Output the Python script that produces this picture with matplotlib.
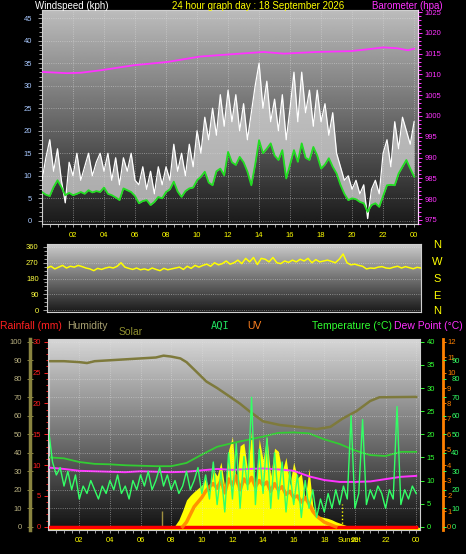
import numpy as np
import matplotlib.pyplot as plt
from matplotlib.ticker import MultipleLocator

plt.rcParams['font.family'] = ['Liberation Sans', 'DejaVu Sans']

# ---- data ----
hq = np.arange(97) * 0.25          # quarter-hour time grid, 0..24 h

gust = [9, 14, 18, 11, 16, 9, 4, 13,
        10, 15, 9, 12, 15, 10, 13, 15,
        11, 15, 9, 14, 8, 14, 11, 15,
        9, 8, 12, 7, 11, 6, 12, 8,
        12, 9, 17, 11, 15, 10, 17, 12,
        20, 15, 23, 18, 25, 19, 28, 21,
        29, 22, 28, 20, 26, 18, 24, 30,
        35, 25, 31, 22, 27, 20, 28, 18,
        25, 33, 22, 33, 24, 29, 21, 29,
        22, 26, 19, 24, 15, 12, 9, 10,
        7, 9, 6, 8, 0.5, 7, 9, 6,
        15, 18, 12, 22, 16, 23, 20, 17,
        22]

wind_avg = [6.4, 5.8, 5.5, 7.5, 9.0, 7.5, 5.7, 6.2,
            5.7, 6.0, 6.4, 6.0, 6.8, 6.3, 6.6, 6.4,
            7.4, 6.0, 5.7, 5.2, 4.6, 7.2, 6.8, 6.4,
            5.5, 3.9, 4.4, 4.6, 3.5, 4.2, 5.3, 5.0,
            6.4, 7.0, 8.7, 6.5, 5.3, 6.6, 7.2, 7.4,
            9.0, 9.8, 10.9, 8.5, 7.9, 11.0, 11.6, 10.1,
            15.3, 13.0, 12.4, 14.2, 13.0, 10.9, 7.9, 12.5,
            17.9, 15.0, 16.0, 17.2, 14.5, 13.5, 15.7, 9.4,
            12.5, 15.7, 13.1, 17.2, 14.0, 13.5, 16.4, 14.5,
            11.6, 12.5, 13.9, 12.0, 10.5, 8.0, 6.0, 4.6,
            5.0, 4.8, 4.2, 3.9, 2.0, 3.5, 3.9, 3.1,
            5.5, 7.9, 8.0, 7.9, 10.5, 12.0, 13.5, 11.6,
            9.8]

baro_h = [0, 1.6, 2.5, 3.8, 5.9, 8.1, 10.2, 12.4, 14.3, 15.6, 17.7, 19.9, 20.9, 22.0, 22.9, 23.6, 24]
baro = [1010.6, 1010.3, 1010.4, 1011.0, 1012.2, 1013.0, 1014.3, 1014.9, 1015.4, 1015.0,
        1015.4, 1015.6, 1016.0, 1016.5, 1016.3, 1015.8, 1016.2]

wdir = [240, 250, 235, 245, 255, 240, 250, 245,
        255, 248, 240, 235, 225, 238, 232, 240,
        245, 240, 250, 270, 245, 238, 232, 240,
        230, 235, 228, 240, 232, 225, 238, 230,
        235, 240, 245, 232, 250, 238, 255, 245,
        255, 262, 250, 270, 258, 265, 280, 262,
        270, 285, 265, 295, 275, 300, 260, 295,
        290, 275, 300, 270, 265, 280, 272, 285,
        275, 290, 280, 295, 270, 288, 275, 280,
        285, 278, 270, 290, 320, 270, 258, 262,
        255, 250, 235, 240, 238, 245, 248, 240,
        238, 245, 250, 240, 248, 242, 236, 244,
        240]

temp_h = list(range(25))
temp = [15.0, 14.8, 14.0, 13.6, 13.5, 13.3, 13.2, 13.1, 13.1, 13.8, 15.6, 17.3, 18.1,
        18.8, 19.5, 20.3, 20.4, 20.2, 18.9, 17.9, 16.5, 15.5, 15.3, 16.2, 16.2]
dew = [12.8, 12.5, 12.1, 12.0, 11.9, 11.8, 12.0, 11.9, 11.8, 11.9, 12.2, 12.5, 12.3,
       12.5, 12.6, 12.4, 12.1, 10.9, 10.1, 9.7, 9.7, 9.8, 10.3, 10.8, 11.0]

hum_h = [0, 1, 2, 2.5, 3, 4, 5, 6, 7, 7.5, 8, 8.6, 9.0, 9.5, 10.3, 11.0, 11.8, 12.5,
         13.1, 14.0, 15.1, 16.2, 17.5, 18.4, 19.2, 20.1, 21.0, 21.6, 24]
hum = [89.5, 89.5, 89.0, 88.5, 89.5, 90.0, 90.5, 91.0, 91.5, 92.5, 92.0, 91.0, 89.0, 85.0,
       78.5, 75.0, 70.5, 66.5, 62.5, 57.0, 55.0, 54.0, 52.8, 54.0, 58.5, 62.5, 68.0, 70.0, 70.2]

solar_h = np.arange(49) * 0.25 + 8.0
solar = [0, 0.3, 1.5, 3.5, 5.8, 6.8, 7.6, 8.3,
         9.0, 10.5, 7.5, 12.3, 11.0, 14.0, 8.5, 16.6,
         19.5, 9.0, 17.5, 18.1, 12.0, 20.9, 8.0, 19.0,
         14.5, 19.5, 11.0, 17.0, 16.3, 12.0, 15.0, 9.0,
         14.0, 10.5, 11.5, 6.0, 12.6, 4.5, 2.5, 2.2,
         2.0, 1.8, 1.5, 1.1, 0.8, 0.5, 0.2, 0.0,
         0.0]

uv_h = np.arange(41) * 0.25 + 8.75
uv = [0, 0.3, 0.8, 1.3, 1.6, 1.9, 2.3, 2.6, 2.8, 2.5, 3.0, 2.2, 3.1, 2.7, 3.3, 2.4,
      3.1, 2.8, 3.2, 2.6, 3.0, 2.7, 2.9, 2.3, 2.8, 2.4, 2.6, 2.1, 2.3, 1.9, 2.0, 1.6,
      1.9, 1.5, 1.0, 0.7, 0.5, 0.3, 0.2, 0.1, 0]

aqi = [52, 35, 28, 32, 22, 30, 20, 28,
       15, 22, 18, 25, 20, 15, 22, 18,
       25, 20, 28, 18, 22, 15, 25, 20,
       28, 22, 30, 20, 25, 32, 22, 28,
       20, 25, 18, 22, 30, 20, 25, 32,
       18, 28, 15, 35, 12, 30, 8, 40,
       15, 45, 10, 38, 20, 70, 12, 42,
       18, 48, 10, 40, 15, 35, 8, 30,
       12, 28, 5, 25, 10, 20, 5, 15,
       8, 18, 10, 20, 12, 22, 15, 60,
       10, 18, 58, 12, 20, 15, 22, 18,
       10, 20, 15, 65, 12, 20, 15, 22,
       18]

rain_h = [0, 24]
rain = [0.0, 0.0]

marker_h = [7.4, 19.15]
marker_top = [3.4, 5.0]

hour_ticks = list(range(2, 25, 2))
hour_labels = ['%02d' % (h % 24) for h in hour_ticks]

# ---- figure ----
W, H = 466, 554
fig = plt.figure(figsize=(W / 100, H / 100), dpi=100, facecolor='black')


def rect(x0, y0, x1, y1):
    return [x0 / W, 1 - y1 / H, (x1 - x0) / W, (y1 - y0) / H]


def bg(ax, top, bot):
    g = np.linspace(bot, top, 256).reshape(-1, 1)
    ax.imshow(g, extent=(0, 1, 0, 1), transform=ax.transAxes, aspect='auto',
              cmap='gray', vmin=0, vmax=1, origin='lower', zorder=0)


def spines(ax, color='#d0d0d0', show=('left', 'right', 'top', 'bottom')):
    for k, s in ax.spines.items():
        s.set_visible(k in show)
        s.set_color(color)


FS = 5.5
GRID = dict(color='#e0e0e0', linestyle=':', linewidth=0.6, alpha=0.6)

# top panel: wind speed + barometer
ax1 = fig.add_axes(rect(42, 10, 418, 224))
bg(ax1, 0.74, 0.1)
ax1.fill_between(hq, wind_avg, gust, color='#d8d8d8', alpha=0.75, lw=0, zorder=2)
ax1.plot(hq, gust, color='white', lw=0.9, zorder=3)
ax1.plot(hq, wind_avg, color='#22dd22', lw=1.3, zorder=4)
ax1.set_xlim(0, 24.25)
ax1.set_ylim(-0.7, 46.8)
ax1.set_yticks(range(0, 50, 5))
ax1.yaxis.set_minor_locator(MultipleLocator(1))
ax1.set_xticks(hour_ticks)
ax1.set_xticklabels(hour_labels)
ax1.xaxis.set_minor_locator(MultipleLocator(0.5))
ax1.tick_params(axis='y', which='both', colors='#a0a0a0', labelcolor='#a8c8ff',
                labelsize=FS, length=3, width=0.7, pad=4)
ax1.tick_params(axis='y', which='minor', length=2)
ax1.tick_params(axis='x', which='both', colors='#a0a0a0', labelcolor='yellow',
                labelsize=FS, length=2, width=0.7, pad=4)
ax1.grid(True, **GRID)
spines(ax1)

ax1b = ax1.twinx()
ax1b.plot(baro_h, baro, color='#ff33ff', lw=1.3, zorder=5)
ax1b.set_ylim(974.0, 1025.5)
ax1b.set_yticks(range(975, 1026, 5))
ax1b.yaxis.set_minor_locator(MultipleLocator(1))
ax1b.tick_params(axis='y', which='both', colors='#ff33ff', labelcolor='#ff33ff',
                 labelsize=FS, length=3, width=0.7, pad=2)
ax1b.tick_params(axis='y', which='minor', length=2)
spines(ax1b, '#ffd0ff', show=('right',))
ax1.tick_params(axis='y', left=True, labelleft=True, right=False, labelright=False)

fig.text(35 / W, 1 - 6 / H, 'Windspeed (kph)', color='white', fontsize=7, va='center')
fig.text(172 / W, 1 - 6 / H, '24 hour graph day : 18 September 2026', color='yellow',
         fontsize=7, va='center')
fig.text(372 / W, 1 - 6 / H, 'Barometer (hpa)', color='#ff33ff', fontsize=7, va='center')

# middle panel: wind direction
ax2 = fig.add_axes(rect(47, 244, 421, 312))
bg(ax2, 0.8, 0.1)
ax2.plot(hq, wdir, color='#ffff00', lw=1.1, zorder=3)
ax2.set_xlim(0, 24)
ax2.set_ylim(-11, 377)
ax2.set_yticks([0, 90, 180, 270, 360])
ax2.yaxis.set_minor_locator(MultipleLocator(22.5))
ax2.set_xticks([])
ax2.tick_params(axis='y', which='both', colors='#a0a0a0', labelcolor='#ffff40',
                labelsize=FS, length=3, width=0.7, pad=3)
ax2.tick_params(axis='y', which='minor', length=2)
ax2.grid(True, axis='y', **GRID)
spines(ax2)
for lab, y in zip(['N', 'W', 'S', 'E', 'N'], [245, 262, 279, 296, 311]):
    fig.text(437 / W, 1 - y / H, lab, color='yellow', fontsize=8, ha='center', va='center')

# legend row
row = 1 - 326 / H
fig.text(0, row, 'Rainfall (mm)', color='#ff2020', fontsize=7.5, va='center')
fig.text(67 / W, row, 'Humidity', color='#a8a070', fontsize=7.5, va='center')
fig.text(119 / W, 1 - 332 / H, 'Solar', color='#909030', fontsize=7.5, va='center')
fig.text(211 / W, row, 'AQI', color='#20e060', fontsize=7.5, va='center',
         family='DejaVu Sans Mono')
fig.text(247 / W, row, 'UV', color='#ff8020', fontsize=7.5, va='center')
fig.text(312 / W, row, 'Temperature (°C)', color='#30ff30', fontsize=7.5, va='center')
fig.text(394 / W, row, 'Dew Point (°C)', color='#ff30ff', fontsize=7.5, va='center')

# bottom panel
ax3 = fig.add_axes(rect(49, 339, 420, 530))
bg(ax3, 0.84, 0.07)
ax3.fill_between(solar_h, 0, solar, color='#ffff00', lw=0, zorder=1.5)
ax3.axhline(-0.45, color='#ffff00', lw=1.5, zorder=1.6)
ax3.vlines(marker_h[0], 0, marker_top[0], color='#a09040', lw=1, zorder=2)
ax3.vlines(marker_h[1], 0, marker_top[1], color='#ffff00', lw=1, linestyles=':', zorder=2)
ax3.plot(temp_h, temp, color='#33cc33', lw=1.3, zorder=4)
ax3.plot(temp_h, dew, color='#ff33ff', lw=1.4, zorder=4)
ax3.set_xlim(0.02, 24.25)
ax3.set_ylim(-0.7, 40.6)
ax3.set_xticks(hour_ticks)
ax3.set_xticklabels(hour_labels)
ax3.xaxis.set_minor_locator(MultipleLocator(0.5))
ax3.grid(True, axis='x', **GRID)
spines(ax3)

axh = ax3.twinx()
axh.plot(hum_h, hum, color='#7e7a3c', lw=1.8, zorder=3)
axh.set_ylim(-1.75, 101.5)
axh.set_yticks(range(0, 101, 10))
axh.yaxis.set_minor_locator(MultipleLocator(2))
axh.yaxis.tick_left()
axh.grid(True, axis='y', **GRID)
axh.tick_params(axis='y', which='both', direction='inout', colors='#8a8440',
                labelcolor='#b8b080', labelsize=FS, length=4, width=0.7, pad=3.5)
axh.tick_params(axis='y', which='minor', length=2)
spines(axh, '#8a8440', show=('left',))
axh.spines['left'].set_position(('outward', 14))
axh.spines['left'].set_linewidth(2.5)

axr = ax3.twinx()
axr.plot(rain_h, rain, color='#ff0000', lw=2.5, zorder=5)
axr.set_ylim(-0.525, 30.45)
axr.set_yticks(range(0, 31, 5))
axr.yaxis.set_minor_locator(MultipleLocator(1))
axr.yaxis.tick_left()
axr.tick_params(axis='y', which='both', colors='#ff2020', labelcolor='#ff2020',
                labelsize=FS, length=3, width=0.7, pad=2)
axr.tick_params(axis='y', which='minor', length=1.5)
spines(axr, '#d0d0d0', show=('left',))
axr.spines['left'].set_position(('outward', 1))

axu = ax3.twinx()
axu.plot(uv_h, uv, color='#ff8000', lw=2.5, alpha=0.85, zorder=3)
axu.set_ylim(-0.21, 12.18)
axu.set_yticks(range(0, 13))
axu.tick_params(axis='y', colors='#ff8000', labelcolor='#ff8000', labelsize=FS,
                length=2, width=0.7, pad=1)
spines(axu, '#ff8000', show=('right',))
axu.spines['right'].set_position(('outward', 16.5))
axu.spines['right'].set_linewidth(2)

axa = ax3.twinx()
axa.plot(hq, aqi, color='#33ff66', lw=1.0, zorder=3)
axa.set_ylim(-1.75, 101.5)
axa.set_yticks(range(0, 91, 10))
axa.tick_params(axis='y', colors='#33ff66', labelcolor='#33ff66', labelsize=FS,
                length=2, width=0.7, pad=4)
spines(axa, show=())
axa.spines['right'].set_position(('outward', 16.5))

ax3.yaxis.tick_right()
ax3.set_yticks(range(0, 41, 5))
ax3.tick_params(axis='y', colors='#33ff33', labelcolor='#33ff33', labelsize=FS,
                length=3, width=0.7, pad=2)
ax3.tick_params(axis='x', which='both', colors='#a0a0a0', labelcolor='yellow',
                labelsize=FS, length=2, width=0.7, pad=3)
fig.text(350 / W, 1 - 540 / H, 'Sunset', color='yellow', fontsize=FS, ha='center', va='center')

fig.savefig('out.png', dpi=100, facecolor='black')
